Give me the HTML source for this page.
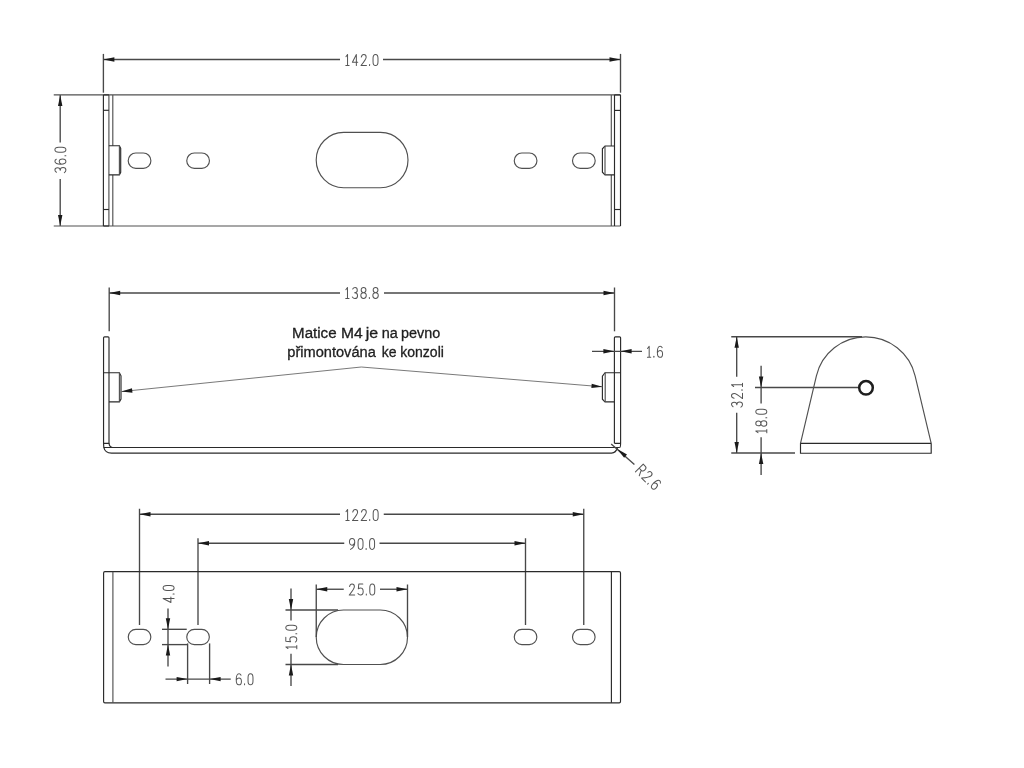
<!DOCTYPE html>
<html><head><meta charset="utf-8"><title>drawing</title>
<style>html,body{margin:0;padding:0;background:#fff;width:1024px;height:768px;overflow:hidden}svg{display:block}</style>
</head><body>
<svg width="1024" height="768" viewBox="0 0 1024 768">
<rect width="1024" height="768" fill="#fff"/>
<line x1="103.4" y1="53.9" x2="103.4" y2="92.7" stroke="#484848" stroke-width="1.35"/>
<line x1="620.5" y1="53.9" x2="620.5" y2="92.7" stroke="#484848" stroke-width="1.35"/>
<line x1="103.4" y1="59.5" x2="340" y2="59.5" stroke="#484848" stroke-width="1.35"/>
<line x1="383" y1="59.5" x2="620.5" y2="59.5" stroke="#484848" stroke-width="1.35"/>
<path d="M103.40,59.50 L114.40,57.30 L114.40,61.70 Z" fill="#1a1a1a" stroke="none"/>
<path d="M620.50,59.50 L609.50,61.70 L609.50,57.30 Z" fill="#1a1a1a" stroke="none"/>
<g transform="translate(361.9,60) rotate(0) scale(0.9167) translate(-17.55,-6)" fill="none" stroke="#555" stroke-width="1.091" stroke-linecap="round" stroke-linejoin="round"><path transform="translate(0.00,0)" d="M0.1,2.4 L1.9,0 L1.9,12 M0,12 L3.6,12"/><path transform="translate(7.20,0)" d="M4.3,12 L4.3,0 L0,8.5 L5.8,8.5"/><path transform="translate(16.60,0)" d="M0.3,2.8 C0.7,1 1.7,0 3,0 C4.6,0 5.6,1.2 5.6,3 C5.6,5 4.4,6.6 0,12 L5.9,12"/><path transform="translate(25.50,0)" d="M0.4,10.9 L0.4,12"/><path transform="translate(29.70,0)" d="M2.7,0 C0.9,0 0,1.6 0,4.2 L0,7.8 C0,10.4 0.9,12 2.7,12 C4.5,12 5.4,10.4 5.4,7.8 L5.4,4.2 C5.4,1.6 4.5,0 2.7,0 Z"/></g>
<line x1="60.2" y1="94.9" x2="60.2" y2="142.5" stroke="#484848" stroke-width="1.35"/>
<line x1="60.2" y1="179" x2="60.2" y2="226" stroke="#484848" stroke-width="1.35"/>
<path d="M60.20,94.90 L62.40,105.90 L58.00,105.90 Z" fill="#1a1a1a" stroke="none"/>
<path d="M60.20,226.00 L58.00,215.00 L62.40,215.00 Z" fill="#1a1a1a" stroke="none"/>
<g transform="translate(60.4,160) rotate(-90) scale(0.9167) translate(-13.80,-6)" fill="none" stroke="#555" stroke-width="1.091" stroke-linecap="round" stroke-linejoin="round"><path transform="translate(0.00,0)" d="M0.4,1.7 C1,0.6 1.9,0 3,0 C4.5,0 5.4,1.1 5.4,2.9 C5.4,4.7 4.3,5.8 2.5,5.8 C4.5,5.8 5.7,7 5.7,8.9 C5.7,10.8 4.5,12 2.8,12 C1.7,12 0.7,11.4 0,10.3"/><path transform="translate(9.30,0)" d="M5.3,1.5 C4.8,0.5 4,0 3.1,0 C1,0 0,2.6 0,6.4 C0,10 1.1,12 2.9,12 C4.7,12 5.7,10.5 5.7,8.3 C5.7,6.1 4.7,4.7 2.9,4.7 C1.6,4.7 0.6,5.6 0,7.1"/><path transform="translate(18.00,0)" d="M0.4,10.9 L0.4,12"/><path transform="translate(22.20,0)" d="M2.7,0 C0.9,0 0,1.6 0,4.2 L0,7.8 C0,10.4 0.9,12 2.7,12 C4.5,12 5.4,10.4 5.4,7.8 L5.4,4.2 C5.4,1.6 4.5,0 2.7,0 Z"/></g>
<line x1="53.75" y1="94.9" x2="620.5" y2="94.9" stroke="#505050" stroke-width="1.15"/>
<line x1="53.75" y1="226" x2="620.5" y2="226" stroke="#505050" stroke-width="1.15"/>
<line x1="103.4" y1="94.9" x2="103.4" y2="226" stroke="#2a2a2a" stroke-width="1.15"/>
<line x1="108.9" y1="94.9" x2="108.9" y2="226" stroke="#505050" stroke-width="1.15"/>
<line x1="112.8" y1="94.9" x2="112.8" y2="145.7" stroke="#505050" stroke-width="1.15"/>
<line x1="112.8" y1="174.9" x2="112.8" y2="226" stroke="#505050" stroke-width="1.15"/>
<line x1="103.4" y1="94.9" x2="108.9" y2="94.9" stroke="#2a2a2a" stroke-width="1.15"/>
<line x1="103.4" y1="110.3" x2="108.9" y2="110.3" stroke="#2a2a2a" stroke-width="1.15"/>
<line x1="103.4" y1="209.5" x2="108.9" y2="209.5" stroke="#2a2a2a" stroke-width="1.15"/>
<line x1="103.4" y1="226" x2="108.9" y2="226" stroke="#2a2a2a" stroke-width="1.15"/>
<path d="M108.9,145.7 L119.4,145.7 L120.7,148.3 L120.7,172.3 L119.4,174.9 L108.9,174.9" stroke="#2a2a2a" stroke-width="1.15" fill="none"/>
<line x1="119.4" y1="145.7" x2="119.4" y2="174.9" stroke="#505050" stroke-width="1.15"/>
<line x1="620.5" y1="94.9" x2="620.5" y2="226" stroke="#2a2a2a" stroke-width="1.15"/>
<line x1="614.5" y1="94.9" x2="614.5" y2="226" stroke="#2a2a2a" stroke-width="1.15"/>
<line x1="611.3" y1="94.9" x2="611.3" y2="146" stroke="#505050" stroke-width="1.15"/>
<line x1="611.3" y1="174.9" x2="611.3" y2="226" stroke="#505050" stroke-width="1.15"/>
<line x1="614.5" y1="94.9" x2="620.5" y2="94.9" stroke="#2a2a2a" stroke-width="1.15"/>
<line x1="614.5" y1="110.4" x2="620.5" y2="110.4" stroke="#2a2a2a" stroke-width="1.15"/>
<line x1="614.5" y1="209.5" x2="620.5" y2="209.5" stroke="#2a2a2a" stroke-width="1.15"/>
<path d="M614.4,146 L605,146 L602.4,148.8 L602.4,172.2 L605,174.9 L614.4,174.9" stroke="#2a2a2a" stroke-width="1.15" fill="none"/>
<line x1="605" y1="146" x2="605" y2="174.9" stroke="#505050" stroke-width="1.15"/>
<rect x="128.2" y="153" width="22.70" height="15.30" rx="7.6" ry="7.65" fill="none" stroke="#505050" stroke-width="1.15"/>
<rect x="186.75" y="153" width="22.70" height="15.30" rx="7.6" ry="7.65" fill="none" stroke="#505050" stroke-width="1.15"/>
<rect x="514.25" y="153" width="22.70" height="15.30" rx="7.6" ry="7.65" fill="none" stroke="#505050" stroke-width="1.15"/>
<rect x="572.5" y="153" width="22.70" height="15.30" rx="7.6" ry="7.65" fill="none" stroke="#505050" stroke-width="1.15"/>
<rect x="316.2" y="132.4" width="91.80" height="55.30" rx="27.5" ry="27.65" fill="none" stroke="#505050" stroke-width="1.15"/>
<line x1="109.2" y1="287.5" x2="109.2" y2="331.3" stroke="#484848" stroke-width="1.35"/>
<line x1="614.5" y1="287.5" x2="614.5" y2="331.3" stroke="#484848" stroke-width="1.35"/>
<line x1="109.2" y1="293" x2="340" y2="293" stroke="#484848" stroke-width="1.35"/>
<line x1="384" y1="293" x2="614.5" y2="293" stroke="#484848" stroke-width="1.35"/>
<path d="M109.20,293.00 L120.20,290.80 L120.20,295.20 Z" fill="#1a1a1a" stroke="none"/>
<path d="M614.50,293.00 L603.50,295.20 L603.50,290.80 Z" fill="#1a1a1a" stroke="none"/>
<g transform="translate(362,293) rotate(0) scale(0.9167) translate(-17.75,-6)" fill="none" stroke="#555" stroke-width="1.091" stroke-linecap="round" stroke-linejoin="round"><path transform="translate(0.00,0)" d="M0.1,2.4 L1.9,0 L1.9,12 M0,12 L3.6,12"/><path transform="translate(7.20,0)" d="M0.4,1.7 C1,0.6 1.9,0 3,0 C4.5,0 5.4,1.1 5.4,2.9 C5.4,4.7 4.3,5.8 2.5,5.8 C4.5,5.8 5.7,7 5.7,8.9 C5.7,10.8 4.5,12 2.8,12 C1.7,12 0.7,11.4 0,10.3"/><path transform="translate(16.50,0)" d="M2.95,5.6 C1.3,5.6 0.35,4.5 0.35,2.8 C0.35,1.1 1.5,0 2.95,0 C4.4,0 5.55,1.1 5.55,2.8 C5.55,4.5 4.6,5.6 2.95,5.6 C1.1,5.6 0,6.8 0,8.8 C0,10.8 1.2,12 2.95,12 C4.7,12 5.9,10.8 5.9,8.8 C5.9,6.8 4.8,5.6 2.95,5.6 Z"/><path transform="translate(25.40,0)" d="M0.4,10.9 L0.4,12"/><path transform="translate(29.60,0)" d="M2.95,5.6 C1.3,5.6 0.35,4.5 0.35,2.8 C0.35,1.1 1.5,0 2.95,0 C4.4,0 5.55,1.1 5.55,2.8 C5.55,4.5 4.6,5.6 2.95,5.6 C1.1,5.6 0,6.8 0,8.8 C0,10.8 1.2,12 2.95,12 C4.7,12 5.9,10.8 5.9,8.8 C5.9,6.8 4.8,5.6 2.95,5.6 Z"/></g>
<path d="M103.55,443.4 L103.55,337.8 Q103.55,336.8 104.6,336.8 L108,336.8 Q109,336.8 109,337.8 L109,443.4 Z" stroke="#2a2a2a" stroke-width="1.15" fill="none"/>
<path d="M109,443.4 Q109.6,447.3 112.5,447.5" stroke="#2a2a2a" stroke-width="1.15" fill="none"/>
<path d="M103.55,443.4 L103.8,447.4 Q105,453.1 111.5,453.1 L611.5,453.1 Q616,453 617.6,447.5" stroke="#2a2a2a" stroke-width="1.15" fill="none"/>
<line x1="103.8" y1="447.5" x2="619.8" y2="447.5" stroke="#2a2a2a" stroke-width="1.15"/>
<path d="M614.4,443.3 L614.4,337.8 Q614.4,336.8 615.4,336.8 L619.6,336.8 Q620.6,336.8 620.6,337.8 L620.6,443.3 Q620.6,447.5 619.6,447.5 M614.4,443.3 L620.6,443.3" stroke="#2a2a2a" stroke-width="1.15" fill="none"/>
<path d="M103.55,372.7 L119.4,372.7 L121,375.8 L121,399 L119.4,401.9 L109,401.9" stroke="#2a2a2a" stroke-width="1.15" fill="none"/>
<line x1="119.4" y1="372.7" x2="119.4" y2="401.9" stroke="#505050" stroke-width="1.15"/>
<path d="M620.6,372.7 L605,372.7 L602.4,376.2 L602.4,399.2 L605,401.9 L614.4,401.9" stroke="#2a2a2a" stroke-width="1.15" fill="none"/>
<line x1="605.2" y1="372.7" x2="605.2" y2="401.9" stroke="#505050" stroke-width="1.15"/>
<path d="M121.3,391.6 L361.3,367 L602.5,386.8" stroke="#6a6a6a" stroke-width="0.9" fill="none"/>
<path d="M121.30,391.60 L132.02,388.29 L132.47,392.67 Z" fill="#1a1a1a" stroke="none"/>
<path d="M602.50,386.80 L591.36,388.09 L591.72,383.71 Z" fill="#1a1a1a" stroke="none"/>
<line x1="592" y1="351.3" x2="642" y2="351.3" stroke="#484848" stroke-width="1.35"/>
<path d="M614.40,351.30 L603.40,353.50 L603.40,349.10 Z" fill="#1a1a1a" stroke="none"/>
<path d="M620.60,351.30 L631.60,349.10 L631.60,353.50 Z" fill="#1a1a1a" stroke="none"/>
<g transform="translate(655,351.8) rotate(0) scale(0.9167) translate(-8.25,-6)" fill="none" stroke="#555" stroke-width="1.091" stroke-linecap="round" stroke-linejoin="round"><path transform="translate(0.00,0)" d="M0.1,2.4 L1.9,0 L1.9,12 M0,12 L3.6,12"/><path transform="translate(6.60,0)" d="M0.4,10.9 L0.4,12"/><path transform="translate(10.80,0)" d="M5.3,1.5 C4.8,0.5 4,0 3.1,0 C1,0 0,2.6 0,6.4 C0,10 1.1,12 2.9,12 C4.7,12 5.7,10.5 5.7,8.3 C5.7,6.1 4.7,4.7 2.9,4.7 C1.6,4.7 0.6,5.6 0,7.1"/></g>
<line x1="611.2" y1="444.1" x2="634.4" y2="464.4" stroke="#484848" stroke-width="1.35"/>
<path d="M617.30,448.90 L627.03,454.49 L624.13,457.80 Z" fill="#1a1a1a" stroke="none"/>
<g transform="translate(648.5,477.2) rotate(45) scale(0.9167) translate(-14.15,-6)" fill="none" stroke="#555" stroke-width="1.091" stroke-linecap="round" stroke-linejoin="round"><path transform="translate(0.00,0)" d="M0,12 L0,0 L3.3,0 C4.9,0 5.7,1.1 5.7,3.1 C5.7,5.1 4.9,6.2 3.3,6.2 L0,6.2 M3.1,6.2 L5.9,12"/><path transform="translate(9.50,0)" d="M0.3,2.8 C0.7,1 1.7,0 3,0 C4.6,0 5.6,1.2 5.6,3 C5.6,5 4.4,6.6 0,12 L5.9,12"/><path transform="translate(18.40,0)" d="M0.4,10.9 L0.4,12"/><path transform="translate(22.60,0)" d="M5.3,1.5 C4.8,0.5 4,0 3.1,0 C1,0 0,2.6 0,6.4 C0,10 1.1,12 2.9,12 C4.7,12 5.7,10.5 5.7,8.3 C5.7,6.1 4.7,4.7 2.9,4.7 C1.6,4.7 0.6,5.6 0,7.1"/></g>
<g style="will-change:transform" opacity="0.999" font-family="Liberation Sans, sans-serif" font-size="14" fill="#1e1e1e" stroke="#1e1e1e" stroke-width="0.3">
<text x="292.10" y="338.3" textLength="44.45" lengthAdjust="spacingAndGlyphs">Matice</text>
<text x="340.95" y="338.3" textLength="21.70" lengthAdjust="spacingAndGlyphs">M4</text>
<text x="365.80" y="338.3" textLength="12.40" lengthAdjust="spacingAndGlyphs">je</text>
<text x="381.80" y="338.3" textLength="16.10" lengthAdjust="spacingAndGlyphs">na</text>
<text x="401.00" y="338.3" textLength="39.20" lengthAdjust="spacingAndGlyphs">pevno</text>
<text x="287.30" y="357.2" textLength="88.50" lengthAdjust="spacingAndGlyphs">přimontována</text>
<text x="381.80" y="357.2" textLength="14.80" lengthAdjust="spacingAndGlyphs">ke</text>
<text x="400.20" y="357.2" textLength="43.70" lengthAdjust="spacingAndGlyphs">konzoli</text>
</g>
<line x1="731.25" y1="336.75" x2="862" y2="336.75" stroke="#484848" stroke-width="1.35"/>
<line x1="731.25" y1="453" x2="795" y2="453" stroke="#484848" stroke-width="1.35"/>
<line x1="736.7" y1="336.75" x2="736.7" y2="376.7" stroke="#484848" stroke-width="1.35"/>
<line x1="736.7" y1="412.7" x2="736.7" y2="453" stroke="#484848" stroke-width="1.35"/>
<path d="M736.70,336.75 L738.90,347.75 L734.50,347.75 Z" fill="#1a1a1a" stroke="none"/>
<path d="M736.70,453.00 L734.50,442.00 L738.90,442.00 Z" fill="#1a1a1a" stroke="none"/>
<g transform="translate(737,395.2) rotate(-90) scale(0.9167) translate(-13.00,-6)" fill="none" stroke="#555" stroke-width="1.091" stroke-linecap="round" stroke-linejoin="round"><path transform="translate(0.00,0)" d="M0.4,1.7 C1,0.6 1.9,0 3,0 C4.5,0 5.4,1.1 5.4,2.9 C5.4,4.7 4.3,5.8 2.5,5.8 C4.5,5.8 5.7,7 5.7,8.9 C5.7,10.8 4.5,12 2.8,12 C1.7,12 0.7,11.4 0,10.3"/><path transform="translate(9.30,0)" d="M0.3,2.8 C0.7,1 1.7,0 3,0 C4.6,0 5.6,1.2 5.6,3 C5.6,5 4.4,6.6 0,12 L5.9,12"/><path transform="translate(18.20,0)" d="M0.4,10.9 L0.4,12"/><path transform="translate(22.40,0)" d="M0.1,2.4 L1.9,0 L1.9,12 M0,12 L3.6,12"/></g>
<line x1="761.1" y1="365.75" x2="761.1" y2="403.5" stroke="#484848" stroke-width="1.35"/>
<line x1="761.1" y1="437.25" x2="761.1" y2="475" stroke="#484848" stroke-width="1.35"/>
<path d="M761.10,387.60 L758.90,376.60 L763.30,376.60 Z" fill="#1a1a1a" stroke="none"/>
<path d="M761.10,453.00 L763.30,464.00 L758.90,464.00 Z" fill="#1a1a1a" stroke="none"/>
<g transform="translate(761.3,421) rotate(-90) scale(0.9167) translate(-12.85,-6)" fill="none" stroke="#555" stroke-width="1.091" stroke-linecap="round" stroke-linejoin="round"><path transform="translate(0.00,0)" d="M0.1,2.4 L1.9,0 L1.9,12 M0,12 L3.6,12"/><path transform="translate(7.20,0)" d="M2.95,5.6 C1.3,5.6 0.35,4.5 0.35,2.8 C0.35,1.1 1.5,0 2.95,0 C4.4,0 5.55,1.1 5.55,2.8 C5.55,4.5 4.6,5.6 2.95,5.6 C1.1,5.6 0,6.8 0,8.8 C0,10.8 1.2,12 2.95,12 C4.7,12 5.9,10.8 5.9,8.8 C5.9,6.8 4.8,5.6 2.95,5.6 Z"/><path transform="translate(16.10,0)" d="M0.4,10.9 L0.4,12"/><path transform="translate(20.30,0)" d="M2.7,0 C0.9,0 0,1.6 0,4.2 L0,7.8 C0,10.4 0.9,12 2.7,12 C4.5,12 5.4,10.4 5.4,7.8 L5.4,4.2 C5.4,1.6 4.5,0 2.7,0 Z"/></g>
<line x1="755" y1="387.5" x2="858" y2="387.5" stroke="#484848" stroke-width="1.35"/>
<circle cx="866" cy="387.8" r="6.8" fill="none" stroke="#1e1e1e" stroke-width="2.5"/>
<path d="M800.5,443.3 L816.4,375.8 A50.75 50.75 0 0 1 915.1,375.8 L931.2,443.3" stroke="#505050" stroke-width="1.15" fill="none"/>
<path d="M800.5,443.3 L931.2,443.3 M800.5,443.3 L800.5,453.2 L931.2,453.2 L931.2,443.3" stroke="#2a2a2a" stroke-width="1.15" fill="none"/>
<line x1="139.5" y1="508.75" x2="139.5" y2="625" stroke="#484848" stroke-width="1.35"/>
<line x1="583.75" y1="508.75" x2="583.75" y2="625" stroke="#484848" stroke-width="1.35"/>
<line x1="139.5" y1="514.25" x2="340" y2="514.25" stroke="#484848" stroke-width="1.35"/>
<line x1="383.75" y1="514.25" x2="583.75" y2="514.25" stroke="#484848" stroke-width="1.35"/>
<path d="M139.50,514.25 L150.50,512.05 L150.50,516.45 Z" fill="#1a1a1a" stroke="none"/>
<path d="M583.75,514.25 L572.75,516.45 L572.75,512.05 Z" fill="#1a1a1a" stroke="none"/>
<g transform="translate(362,515) rotate(0) scale(0.9167) translate(-17.60,-6)" fill="none" stroke="#555" stroke-width="1.091" stroke-linecap="round" stroke-linejoin="round"><path transform="translate(0.00,0)" d="M0.1,2.4 L1.9,0 L1.9,12 M0,12 L3.6,12"/><path transform="translate(7.20,0)" d="M0.3,2.8 C0.7,1 1.7,0 3,0 C4.6,0 5.6,1.2 5.6,3 C5.6,5 4.4,6.6 0,12 L5.9,12"/><path transform="translate(16.70,0)" d="M0.3,2.8 C0.7,1 1.7,0 3,0 C4.6,0 5.6,1.2 5.6,3 C5.6,5 4.4,6.6 0,12 L5.9,12"/><path transform="translate(25.60,0)" d="M0.4,10.9 L0.4,12"/><path transform="translate(29.80,0)" d="M2.7,0 C0.9,0 0,1.6 0,4.2 L0,7.8 C0,10.4 0.9,12 2.7,12 C4.5,12 5.4,10.4 5.4,7.8 L5.4,4.2 C5.4,1.6 4.5,0 2.7,0 Z"/></g>
<line x1="198" y1="538.25" x2="198" y2="625" stroke="#484848" stroke-width="1.35"/>
<line x1="525.5" y1="538.25" x2="525.5" y2="625" stroke="#484848" stroke-width="1.35"/>
<line x1="198" y1="543.25" x2="344.25" y2="543.25" stroke="#484848" stroke-width="1.35"/>
<line x1="379.5" y1="543.25" x2="525.5" y2="543.25" stroke="#484848" stroke-width="1.35"/>
<path d="M198.00,543.25 L209.00,541.05 L209.00,545.45 Z" fill="#1a1a1a" stroke="none"/>
<path d="M525.50,543.25 L514.50,545.45 L514.50,541.05 Z" fill="#1a1a1a" stroke="none"/>
<g transform="translate(362,543.9) rotate(0) scale(0.9167) translate(-13.70,-6)" fill="none" stroke="#555" stroke-width="1.091" stroke-linecap="round" stroke-linejoin="round"><path transform="translate(0.00,0)" d="M5.7,4.4 C5.4,6.4 4.3,7.4 2.85,7.4 C1.1,7.4 0,6 0,3.7 C0,1.5 1.2,0 2.85,0 C4.6,0 5.8,1.6 5.8,4.2 C5.8,7.4 4.4,10.2 1.2,12"/><path transform="translate(9.40,0)" d="M2.7,0 C0.9,0 0,1.6 0,4.2 L0,7.8 C0,10.4 0.9,12 2.7,12 C4.5,12 5.4,10.4 5.4,7.8 L5.4,4.2 C5.4,1.6 4.5,0 2.7,0 Z"/><path transform="translate(17.80,0)" d="M0.4,10.9 L0.4,12"/><path transform="translate(22.00,0)" d="M2.7,0 C0.9,0 0,1.6 0,4.2 L0,7.8 C0,10.4 0.9,12 2.7,12 C4.5,12 5.4,10.4 5.4,7.8 L5.4,4.2 C5.4,1.6 4.5,0 2.7,0 Z"/></g>
<rect x="103.6" y="571.6" width="516.9" height="131.2" rx="1.3" fill="none" stroke="#2a2a2a" stroke-width="1.15"/>
<line x1="112.9" y1="571.75" x2="112.9" y2="702.75" stroke="#505050" stroke-width="1.15"/>
<line x1="611.4" y1="571.75" x2="611.4" y2="702.75" stroke="#2a2a2a" stroke-width="1.15"/>
<rect x="128.25" y="629.3" width="22.60" height="15.30" rx="7.6" ry="7.65" fill="none" stroke="#505050" stroke-width="1.15"/>
<rect x="186.75" y="629.3" width="22.60" height="15.30" rx="7.6" ry="7.65" fill="none" stroke="#505050" stroke-width="1.15"/>
<rect x="514.25" y="629.3" width="22.60" height="15.30" rx="7.6" ry="7.65" fill="none" stroke="#505050" stroke-width="1.15"/>
<rect x="572.5" y="629.3" width="22.60" height="15.30" rx="7.6" ry="7.65" fill="none" stroke="#505050" stroke-width="1.15"/>
<rect x="316.25" y="610" width="91.25" height="54.50" rx="27.25" ry="27.25" fill="none" stroke="#505050" stroke-width="1.15"/>
<line x1="162" y1="629.3" x2="186.75" y2="629.3" stroke="#484848" stroke-width="1.35"/>
<line x1="162" y1="644.6" x2="188" y2="644.6" stroke="#484848" stroke-width="1.35"/>
<line x1="168" y1="608.5" x2="168" y2="666.5" stroke="#484848" stroke-width="1.35"/>
<path d="M168.00,629.30 L165.80,618.30 L170.20,618.30 Z" fill="#1a1a1a" stroke="none"/>
<path d="M168.00,644.60 L170.20,655.60 L165.80,655.60 Z" fill="#1a1a1a" stroke="none"/>
<g transform="translate(168.6,594) rotate(-90) scale(0.9167) translate(-9.20,-6)" fill="none" stroke="#555" stroke-width="1.091" stroke-linecap="round" stroke-linejoin="round"><path transform="translate(0.00,0)" d="M4.3,12 L4.3,0 L0,8.5 L5.8,8.5"/><path transform="translate(8.80,0)" d="M0.4,10.9 L0.4,12"/><path transform="translate(13.00,0)" d="M2.7,0 C0.9,0 0,1.6 0,4.2 L0,7.8 C0,10.4 0.9,12 2.7,12 C4.5,12 5.4,10.4 5.4,7.8 L5.4,4.2 C5.4,1.6 4.5,0 2.7,0 Z"/></g>
<line x1="187.6" y1="643.4" x2="187.6" y2="684" stroke="#484848" stroke-width="1.35"/>
<line x1="209.6" y1="643.4" x2="209.6" y2="684" stroke="#484848" stroke-width="1.35"/>
<line x1="165.5" y1="679.1" x2="230.75" y2="679.1" stroke="#484848" stroke-width="1.35"/>
<path d="M187.60,679.10 L176.60,681.30 L176.60,676.90 Z" fill="#1a1a1a" stroke="none"/>
<path d="M209.60,679.10 L220.60,676.90 L220.60,681.30 Z" fill="#1a1a1a" stroke="none"/>
<g transform="translate(244.6,679.3) rotate(0) scale(0.9167) translate(-9.15,-6)" fill="none" stroke="#555" stroke-width="1.091" stroke-linecap="round" stroke-linejoin="round"><path transform="translate(0.00,0)" d="M5.3,1.5 C4.8,0.5 4,0 3.1,0 C1,0 0,2.6 0,6.4 C0,10 1.1,12 2.9,12 C4.7,12 5.7,10.5 5.7,8.3 C5.7,6.1 4.7,4.7 2.9,4.7 C1.6,4.7 0.6,5.6 0,7.1"/><path transform="translate(8.70,0)" d="M0.4,10.9 L0.4,12"/><path transform="translate(12.90,0)" d="M2.7,0 C0.9,0 0,1.6 0,4.2 L0,7.8 C0,10.4 0.9,12 2.7,12 C4.5,12 5.4,10.4 5.4,7.8 L5.4,4.2 C5.4,1.6 4.5,0 2.7,0 Z"/></g>
<line x1="285.5" y1="610" x2="338" y2="610" stroke="#484848" stroke-width="1.35"/>
<line x1="285.5" y1="664.5" x2="338" y2="664.5" stroke="#484848" stroke-width="1.35"/>
<line x1="291" y1="588.5" x2="291" y2="620.5" stroke="#484848" stroke-width="1.35"/>
<line x1="291" y1="653.75" x2="291" y2="686" stroke="#484848" stroke-width="1.35"/>
<path d="M291.00,610.00 L288.80,599.00 L293.20,599.00 Z" fill="#1a1a1a" stroke="none"/>
<path d="M291.00,664.50 L293.20,675.50 L288.80,675.50 Z" fill="#1a1a1a" stroke="none"/>
<g transform="translate(291.3,637) rotate(-90) scale(0.9167) translate(-12.75,-6)" fill="none" stroke="#555" stroke-width="1.091" stroke-linecap="round" stroke-linejoin="round"><path transform="translate(0.00,0)" d="M0.1,2.4 L1.9,0 L1.9,12 M0,12 L3.6,12"/><path transform="translate(7.20,0)" d="M5.3,0 L0.9,0 L0.4,5.3 C1.1,4.7 1.9,4.4 2.8,4.4 C4.6,4.4 5.7,5.9 5.7,8.2 C5.7,10.6 4.5,12 2.8,12 C1.7,12 0.7,11.5 0,10.4"/><path transform="translate(15.90,0)" d="M0.4,10.9 L0.4,12"/><path transform="translate(20.10,0)" d="M2.7,0 C0.9,0 0,1.6 0,4.2 L0,7.8 C0,10.4 0.9,12 2.7,12 C4.5,12 5.4,10.4 5.4,7.8 L5.4,4.2 C5.4,1.6 4.5,0 2.7,0 Z"/></g>
<line x1="316.25" y1="584.5" x2="316.25" y2="637" stroke="#484848" stroke-width="1.35"/>
<line x1="407.5" y1="584.5" x2="407.5" y2="637" stroke="#484848" stroke-width="1.35"/>
<line x1="316.25" y1="589.25" x2="343.75" y2="589.25" stroke="#484848" stroke-width="1.35"/>
<line x1="380" y1="589.25" x2="407.5" y2="589.25" stroke="#484848" stroke-width="1.35"/>
<path d="M316.25,589.25 L327.25,587.05 L327.25,591.45 Z" fill="#1a1a1a" stroke="none"/>
<path d="M407.50,589.25 L396.50,591.45 L396.50,587.05 Z" fill="#1a1a1a" stroke="none"/>
<g transform="translate(362,589.5) rotate(0) scale(0.9167) translate(-13.90,-6)" fill="none" stroke="#555" stroke-width="1.091" stroke-linecap="round" stroke-linejoin="round"><path transform="translate(0.00,0)" d="M0.3,2.8 C0.7,1 1.7,0 3,0 C4.6,0 5.6,1.2 5.6,3 C5.6,5 4.4,6.6 0,12 L5.9,12"/><path transform="translate(9.50,0)" d="M5.3,0 L0.9,0 L0.4,5.3 C1.1,4.7 1.9,4.4 2.8,4.4 C4.6,4.4 5.7,5.9 5.7,8.2 C5.7,10.6 4.5,12 2.8,12 C1.7,12 0.7,11.5 0,10.4"/><path transform="translate(18.20,0)" d="M0.4,10.9 L0.4,12"/><path transform="translate(22.40,0)" d="M2.7,0 C0.9,0 0,1.6 0,4.2 L0,7.8 C0,10.4 0.9,12 2.7,12 C4.5,12 5.4,10.4 5.4,7.8 L5.4,4.2 C5.4,1.6 4.5,0 2.7,0 Z"/></g>
</svg>
</body></html>
